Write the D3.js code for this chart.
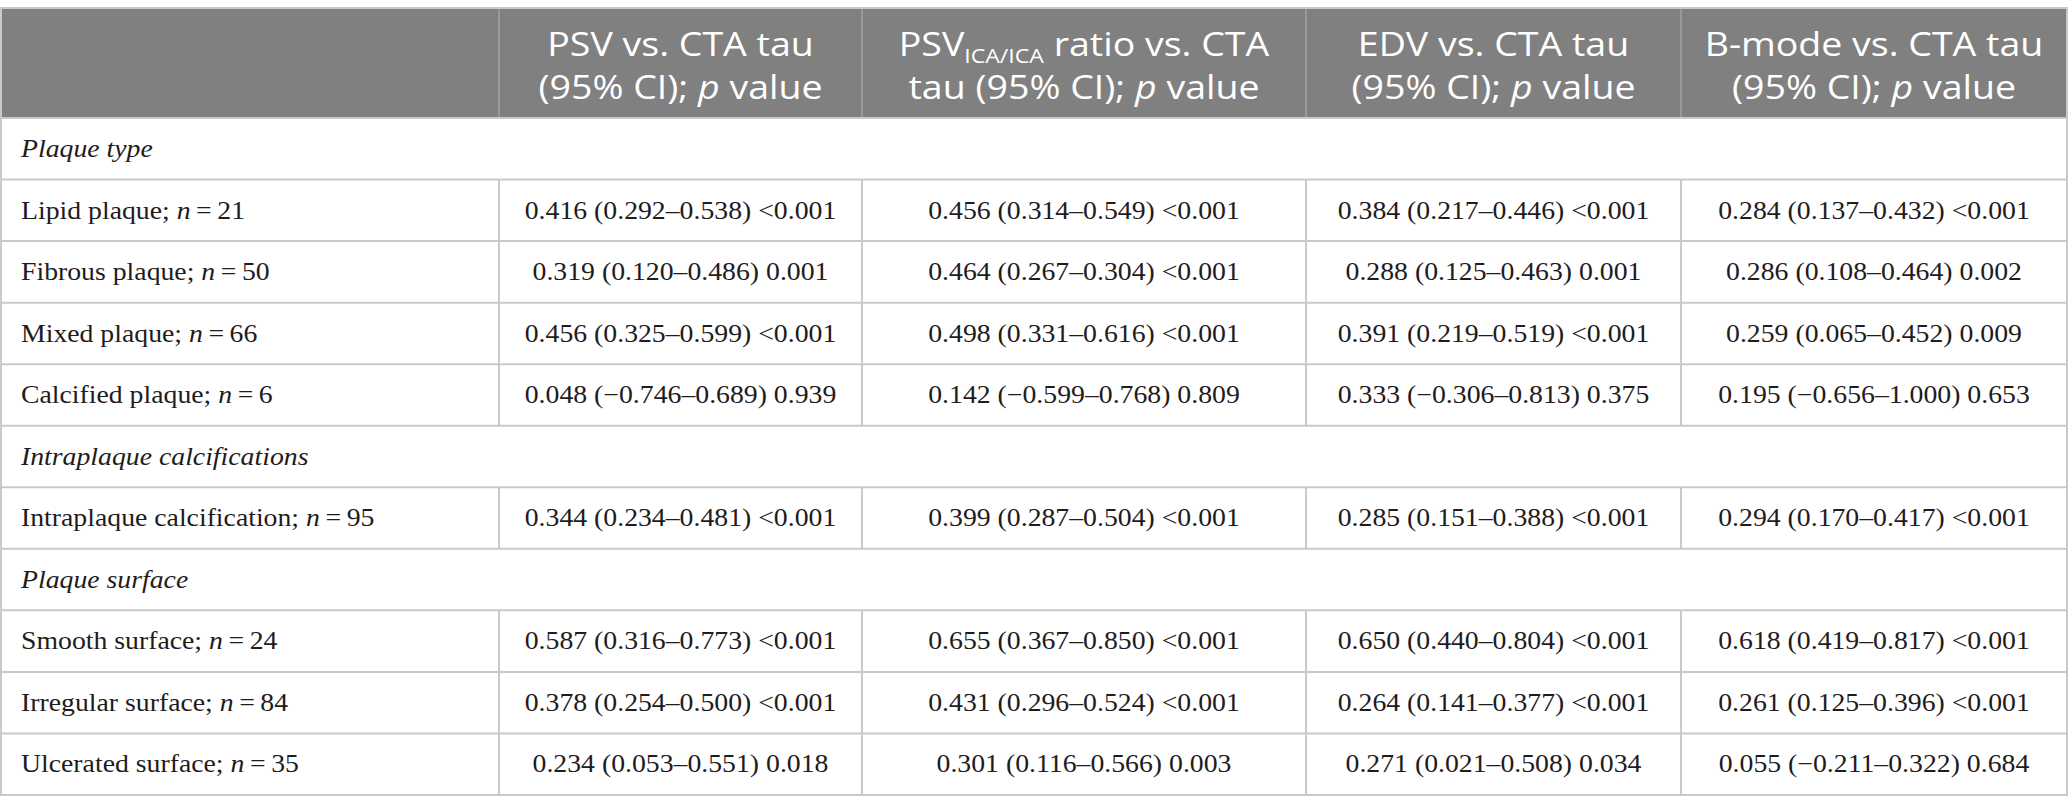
<!DOCTYPE html>
<html>
<head>
<meta charset="utf-8">
<script src="https://cdn.jsdelivr.net/npm/d3@7"></script>
<style>
    html, body { margin: 0; padding: 0; background: #fff; }
    svg { display: block; }
</style>
</head>
<body>
<svg id="chart" width="2069" height="812"></svg>
<script>
// table content
const sectionNames = ["Plaque type", "Intraplaque calcifications", "Plaque surface"];
const rowLabels = ["Lipid plaque", "Fibrous plaque", "Mixed plaque", "Calcified plaque",
    "Intraplaque calcification", "Smooth surface", "Irregular surface", "Ulcerated surface"];
const rowN = [21, 50, 66, 6, 95, 24, 84, 35];
const rowSection = [0, 0, 0, 0, 1, 2, 2, 2];

const psvTau = [0.416, 0.319, 0.456, 0.048, 0.344, 0.587, 0.378, 0.234];
const psvLo  = [0.292, 0.120, 0.325, -0.746, 0.234, 0.316, 0.254, 0.053];
const psvHi  = [0.538, 0.486, 0.599, 0.689, 0.481, 0.773, 0.500, 0.551];
const psvP   = ["<0.001", "0.001", "<0.001", "0.939", "<0.001", "<0.001", "<0.001", "0.018"];

const ratioTau = [0.456, 0.464, 0.498, 0.142, 0.399, 0.655, 0.431, 0.301];
const ratioLo  = [0.314, 0.267, 0.331, -0.599, 0.287, 0.367, 0.296, 0.116];
const ratioHi  = [0.549, 0.304, 0.616, 0.768, 0.504, 0.850, 0.524, 0.566];
const ratioP   = ["<0.001", "<0.001", "<0.001", "0.809", "<0.001", "<0.001", "<0.001", "0.003"];

const edvTau = [0.384, 0.288, 0.391, 0.333, 0.285, 0.650, 0.264, 0.271];
const edvLo  = [0.217, 0.125, 0.219, -0.306, 0.151, 0.440, 0.141, 0.021];
const edvHi  = [0.446, 0.463, 0.519, 0.813, 0.388, 0.804, 0.377, 0.508];
const edvP   = ["<0.001", "0.001", "<0.001", "0.375", "<0.001", "<0.001", "<0.001", "0.034"];

const bmodeTau = [0.284, 0.286, 0.259, 0.195, 0.294, 0.618, 0.261, 0.055];
const bmodeLo  = [0.137, 0.108, 0.065, -0.656, 0.170, 0.419, 0.125, -0.211];
const bmodeHi  = [0.432, 0.464, 0.452, 1.000, 0.417, 0.817, 0.396, 0.322];
const bmodeP   = ["<0.001", "0.002", "0.009", "0.653", "<0.001", "<0.001", "<0.001", "0.684"];

// header lines, split in pieces: i = italic, sub = subscript
const headerLines = [
    [[{t: "PSV vs. CTA tau"}], [{t: "(95% CI); "}, {t: "p", i: true}, {t: " value"}]],
    [[{t: "PSV"}, {t: "ICA/ICA", sub: true}, {t: " ratio vs. CTA"}], [{t: "tau (95% CI); "}, {t: "p", i: true}, {t: " value"}]],
    [[{t: "EDV vs. CTA tau"}], [{t: "(95% CI); "}, {t: "p", i: true}, {t: " value"}]],
    [[{t: "B-mode vs. CTA tau"}], [{t: "(95% CI); "}, {t: "p", i: true}, {t: " value"}]]
];

const columns = [
    {tau: psvTau, lo: psvLo, hi: psvHi, p: psvP},
    {tau: ratioTau, lo: ratioLo, hi: ratioHi, p: ratioP},
    {tau: edvTau, lo: edvLo, hi: edvHi, p: edvP},
    {tau: bmodeTau, lo: bmodeLo, hi: bmodeHi, p: bmodeP}
];

// layout
const left = 1, right = 2067, headTop = 8, headBottom = 118, bottom = 795;
const colWidths = [498, 363, 444, 375, 386];
const colX = [left].concat(Array.from(d3.cumsum(colWidths), c => left + c));
const padLeft = 20;
const bodyStretch = 1.11, headStretch = 1.155;  // the picture is a bit wider than tall
const lineColor = "#c9c9c9";
const textColor = "#1f1c1d";

// build the list of rows: a section row before the first row of each section
let tableRows = [];
rowLabels.forEach((lab, i) => {
    if (i === 0 || rowSection[i] !== rowSection[i - 1]) {
        tableRows.push({type: "section", label: sectionNames[rowSection[i]]});
    }
    tableRows.push({type: "data", label: lab, n: rowN[i], idx: i});
});

const y = d3.scaleBand()
    .domain(d3.range(tableRows.length))
    .range([headBottom, bottom]);

const fmt = d3.format(".3f");
function cellText(col, i) {
    return `${fmt(col.tau[i])} (${fmt(col.lo[i])}\u2013${fmt(col.hi[i])}) ${col.p[i]}`;
}

const svg = d3.select("#chart");

// header band
svg.append("rect")
    .attr("x", left).attr("y", headTop)
    .attr("width", right - left).attr("height", headBottom - headTop)
    .attr("fill", "#808080");

svg.append("g")
    .selectAll("line")
    .data(colX.slice(1, 5))
    .enter().append("line")
    .attr("x1", d => d).attr("x2", d => d)
    .attr("y1", headTop).attr("y2", headBottom)
    .attr("stroke", "#a3a3a3").attr("stroke-width", 1.5);

const headG = svg.append("g")
    .attr("font-family", "'Open Sans', 'Noto Sans', sans-serif")
    .attr("font-size", 32.5)
    .attr("fill", "#fff");

headerLines.forEach((lines, c) => {
    let cx = (colX[c + 1] + colX[c + 2]) / 2;
    lines.forEach((pieces, li) => {
        let t = headG.append("text")
            .attr("text-anchor", "middle")
            .attr("transform", `translate(${cx},${li === 0 ? 56 : 99}) scale(${headStretch},1)`);
        let shifted = 0;
        pieces.forEach(p => {
            let ts = t.append("tspan").text(p.t);
            if (p.i) ts.attr("font-style", "italic");
            if (p.sub) {
                ts.attr("font-size", 20).attr("dy", 7);
                shifted = 7;
            } else if (shifted) {
                ts.attr("dy", -shifted);
                shifted = 0;
            }
        });
    });
});

// body
const bodyG = svg.append("g")
    .attr("font-family", "'Liberation Serif', 'Times New Roman', serif")
    .attr("font-size", 25)
    .attr("fill", textColor);

tableRows.forEach((r, k) => {
    let by = y(k) + 39;
    let lab = bodyG.append("text")
        .attr("transform", `translate(${left + padLeft},${by}) scale(${bodyStretch},1)`);
    if (r.type === "section") {
        lab.attr("font-style", "italic").text(r.label);
        return;
    }
    lab.append("tspan").text(r.label + "; ");
    lab.append("tspan").attr("font-style", "italic").text("n");
    lab.append("tspan").text("\u2009=\u2009" + r.n);

    columns.forEach((col, c) => {
        let cx = (colX[c + 1] + colX[c + 2]) / 2;
        bodyG.append("text")
            .attr("text-anchor", "middle")
            .attr("transform", `translate(${cx},${by}) scale(${bodyStretch},1)`)
            .text(cellText(col, r.idx));
    });
});

// grid lines
const grid = svg.append("g")
    .attr("stroke", lineColor)
    .attr("stroke-width", 2);

grid.selectAll("line.h")
    .data(d3.range(tableRows.length + 1))
    .enter().append("line")
    .attr("class", "h")
    .attr("x1", left).attr("x2", right)
    .attr("y1", k => k < tableRows.length ? y(k) : bottom)
    .attr("y2", k => k < tableRows.length ? y(k) : bottom);

// column lines only in data rows
tableRows.forEach((r, k) => {
    if (r.type !== "data") return;
    grid.selectAll(null)
        .data(colX.slice(1, 5))
        .enter().append("line")
        .attr("x1", d => d).attr("x2", d => d)
        .attr("y1", y(k)).attr("y2", y(k) + y.bandwidth());
});

// outer border
svg.append("rect")
    .attr("x", left).attr("y", headTop)
    .attr("width", right - left).attr("height", bottom - headTop)
    .attr("fill", "none")
    .attr("stroke", lineColor).attr("stroke-width", 2);
</script>
</body>
</html>
